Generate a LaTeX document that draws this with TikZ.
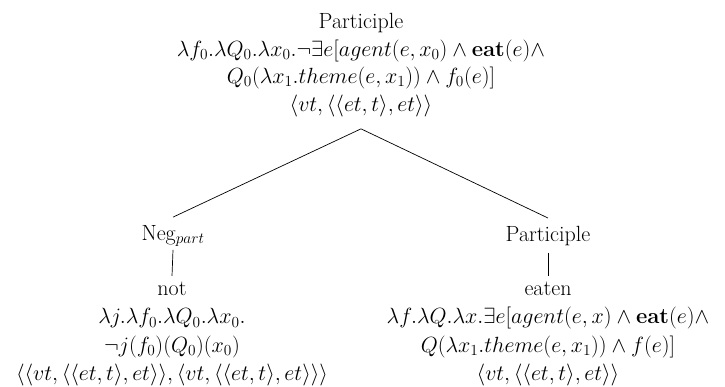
\RequirePackage{fix-cm}
\documentclass[tikz,border=0pt]{standalone}
\begin{document}
\begin{tikzpicture}[x=1pt,y=-1pt,
  lbl/.style={inner sep=0pt, align=center, font=\fontsize{22}{27.5}\selectfont},
  lblb/.style={inner sep=0pt, align=center, font=\fontsize{22}{28.3}\selectfont},
  edge/.style={draw=black, line width=0.7pt}]
\useasboundingbox (0,0) rectangle (725,386);
\node[lbl] (top) at (361,65) {Participle\\
  $\lambda f_0.\lambda Q_0.\lambda x_0.\neg\exists e[agent(e,x_0)\wedge\mathbf{eat}(e)\wedge$\\
  $Q_0(\lambda x_1.theme(e,x_1))\wedge f_0(e)]$\\
  $\langle vt,\langle\langle et,t\rangle,et\rangle\rangle$};
\node[lbl] (neg) at (173,236) {Neg$_{part}$};
\node[lbl] (part) at (548,236) {Participle};
\node[lblb] (not) at (172,334) {not\\
  $\lambda j.\lambda f_0.\lambda Q_0.\lambda x_0.$\\
  $\neg j(f_0)(Q_0)(x_0)$\\
  $\langle\langle vt,\langle\langle et,t\rangle,et\rangle\rangle,\langle vt,\langle\langle et,t\rangle,et\rangle\rangle\rangle$};
\node[lblb] (eaten) at (548,334) {eaten\\
  $\lambda f.\lambda Q.\lambda x.\exists e[agent(e,x)\wedge\mathbf{eat}(e)\wedge$\\
  $Q(\lambda x_1.theme(e,x_1))\wedge f(e)]$\\
  $\langle vt,\langle\langle et,t\rangle,et\rangle\rangle$};
\draw[edge] ([yshift=-12pt]top.south) -- ([yshift=8pt]neg.north);
\draw[edge] ([yshift=-12pt]top.south) -- ([yshift=8pt]part.north);
\draw[edge] ([yshift=-3pt]neg.south) -- ([yshift=6pt]not.north);
\draw[edge] ([yshift=-7pt]part.south) -- ([yshift=6pt]eaten.north);
\end{tikzpicture}
\end{document}
